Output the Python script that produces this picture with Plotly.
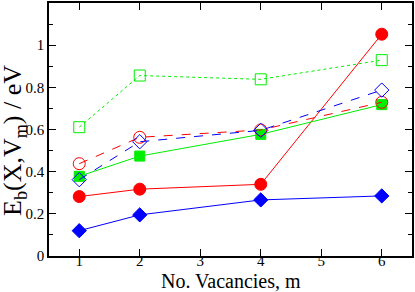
import plotly.graph_objects as go

vacancies = [1, 2, 4, 6]
blue_filled = [0.12, 0.195, 0.266, 0.285]
red_filled = [0.282, 0.317, 0.34, 1.052]
green_filled = [0.378, 0.474, 0.577, 0.718]
red_open = [0.438, 0.563, 0.598, 0.729]
blue_open = [0.362, 0.542, 0.596, 0.787]
green_open = [0.611, 0.856, 0.838, 0.929]

series = [
    (blue_filled, "#0000ff", "solid", "diamond", 11),
    (red_filled, "#ff0000", "solid", "circle", 12),
    (green_filled, "#00ee00", "solid", "square", 10),
    (red_open, "#ff0000", "dash", "circle-open", 12),
    (blue_open, "#0000ff", "dash", "diamond-open", 11),
    (green_open, "#00ee00", "dot", "square-open", 11),
]

fig = go.Figure()
for vals, col, dash, sym, sz in series:
    fig.add_trace(go.Scatter(
        x=vacancies, y=vals, mode="lines+markers",
        line=dict(color=col, width=1, dash=dash),
        marker=dict(symbol=sym, size=sz, color=col, line=dict(color=col, width=1)),
        showlegend=False,
    ))

font = "Liberation Serif"
W, H = 415, 292
L, R, T, B = 49, 2, 1, 36
fig.update_layout(
    width=W, height=H,
    margin=dict(l=L, r=R, t=T, b=B),
    paper_bgcolor="white", plot_bgcolor="white",
    font=dict(family=font, color="black", size=15),
)
fig.update_xaxes(
    range=[0.5, 6.5], dtick=1, tick0=0,
    showgrid=False, zeroline=False,
    showline=True, linecolor="black", linewidth=1.5, mirror="ticks",
    ticks="inside", ticklen=7, tickwidth=1, tickcolor="black",
    ticklabelstandoff=-10,
    tickfont=dict(size=15, family=font, color="black"),
)
fig.update_yaxes(
    range=[0, 1.2], dtick=0.2, tick0=0, tickformat="~g",
    showgrid=False, zeroline=False,
    showline=True, linecolor="black", linewidth=1.5, mirror="ticks",
    ticks="inside", ticklen=7, tickwidth=1, tickcolor="black",
    minor=dict(dtick=0.1, ticks="inside", ticklen=4, tickcolor="black", showgrid=False),
    tickfont=dict(size=15, family=font, color="black"),
)

ph = H - T - B
pw = W - L - R
fig.add_annotation(
    text="No. Vacancies, m", xref="paper", yref="paper",
    x=0.5, y=-(281 - (H - B)) / ph, xanchor="center", yanchor="middle",
    showarrow=False, font=dict(size=20, family=font, color="black"),
)
fig.add_annotation(
    text="E<sub>b</sub>(X,V<sub>m</sub>) / eV", xref="paper", yref="paper",
    x=-(L - 14) / pw, y=1 - (140 - T) / ph, xanchor="center", yanchor="middle",
    textangle=-90, showarrow=False, font=dict(size=26, family=font, color="black"),
)

fig.write_html(
    "out.html",
    config={"displayModeBar": False},
    post_script="document.body.style.margin='0';",
)
